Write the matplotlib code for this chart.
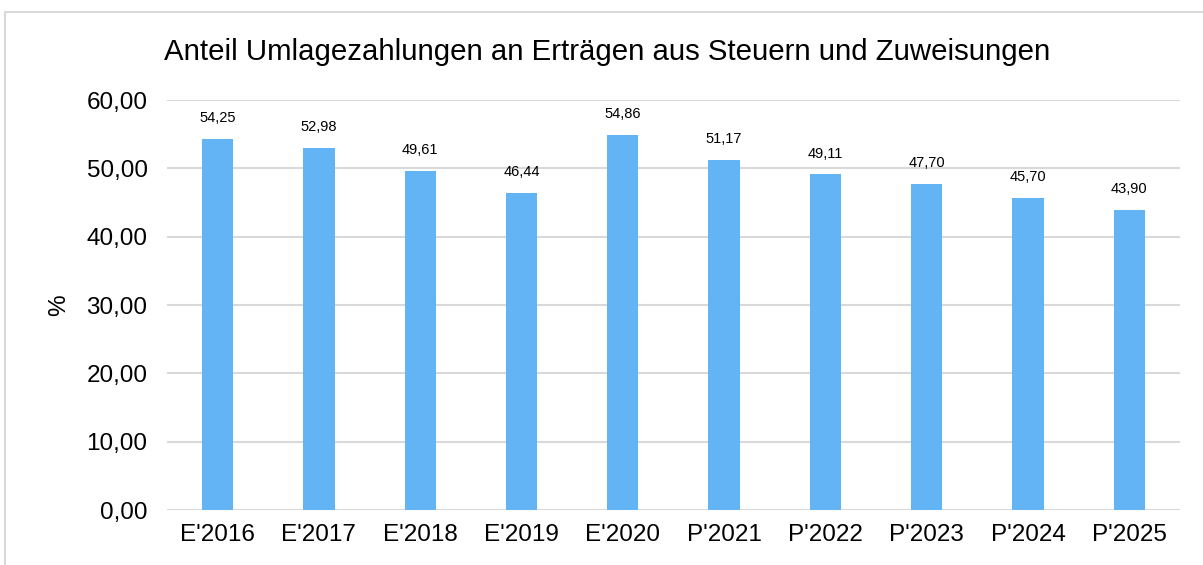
import matplotlib
matplotlib.use("Agg")
import matplotlib.pyplot as plt
from matplotlib.patches import Rectangle

# Werte aus dem Haushaltsplan
jahre = ["E'2016", "E'2017", "E'2018", "E'2019", "E'2020",
         "P'2021", "P'2022", "P'2023", "P'2024", "P'2025"]
anteil = [54.25, 52.98, 49.61, 46.44, 54.86, 51.17, 49.11, 47.70, 45.70, 43.90]

plt.rcParams['font.family'] = ['Liberation Sans', 'DejaVu Sans']

fig = plt.figure(figsize=(12.03, 5.65), dpi=100)
ax = fig.add_axes([0.1388, 0.0973, 0.842, 0.7257])

# grauer Rahmen um das Diagramm
fig.patches.append(Rectangle((5 / 1203, -0.05), 1.2, 1 - 12 / 565 + 0.05,
                             transform=fig.transFigure, fill=False,
                             edgecolor="#d9d9d9", linewidth=1.5))

x = range(len(jahre))
bars = ax.bar(x, anteil, width=0.31, color="#63b4f5", zorder=3)

for b, v in zip(bars, anteil):
    ax.annotate(f"{v:.2f}".replace(".", ","),
                (b.get_x() + b.get_width() / 2, v),
                xytext=(0, 10), textcoords="offset points",
                ha="center", va="bottom", fontsize=10.5)

ax.set_xlim(-0.5, len(jahre) - 0.5)
ax.set_ylim(0, 60)
ax.set_yticks(range(0, 61, 10))
ax.set_yticklabels([f"{t:.2f}".replace(".", ",") for t in range(0, 61, 10)])
ax.set_xticks(list(x))
ax.set_xticklabels(jahre)
ax.tick_params(axis="both", length=0, labelsize=17.5)
ax.tick_params(axis="y", pad=14)
ax.tick_params(axis="x", pad=10)

ax.yaxis.grid(True, color="#d9d9d9", linewidth=1.5, zorder=0)
for s in ax.spines.values():
    s.set_visible(False)

ax.set_ylabel("%", fontsize=17.5, labelpad=12)
fig.text(0.505, 1 - 60 / 565, "Anteil Umlagezahlungen an Erträgen aus Steuern und Zuweisungen",
         ha="center", va="baseline", fontsize=21.2)

fig.savefig("out.png", dpi=100)
